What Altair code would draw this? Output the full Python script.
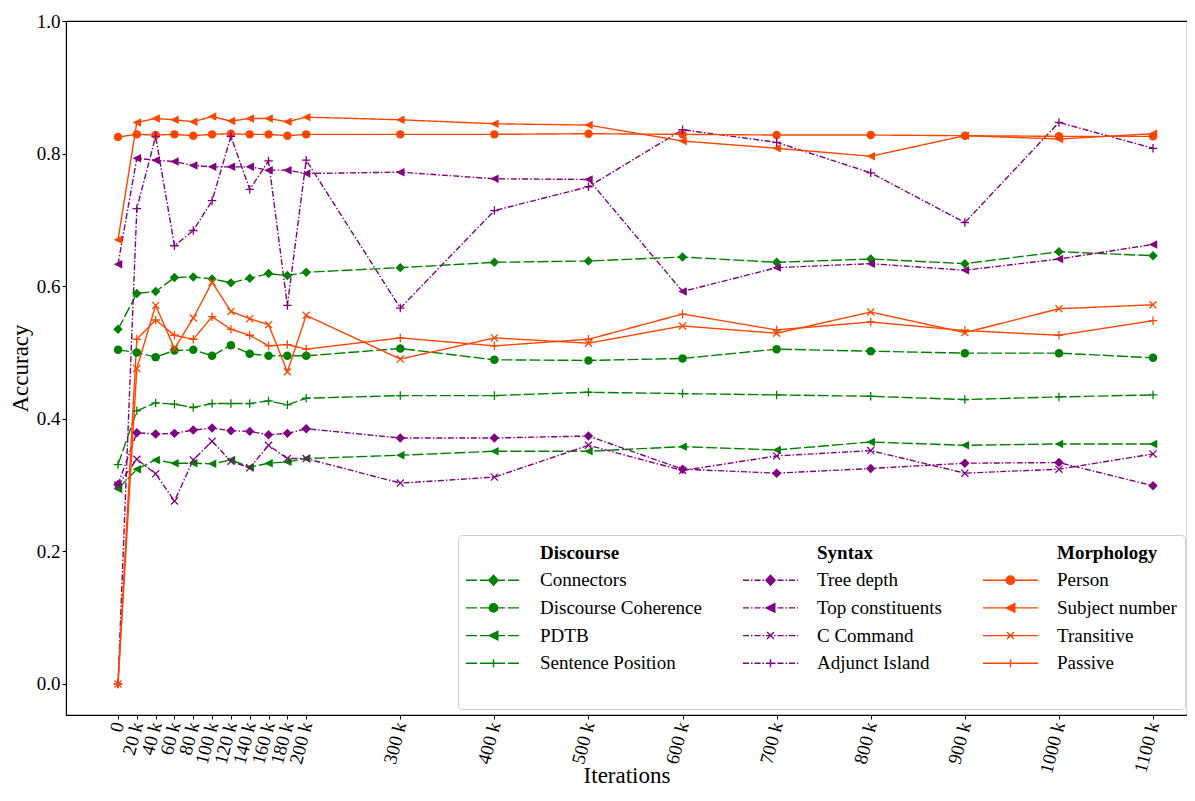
import altair as alt
import pandas as pd

# ---------------- data ----------------
iterations = [0, 20, 40, 60, 80, 100, 120, 140, 160, 180, 200,
              300, 400, 500, 600, 700, 800, 900, 1000, 1100]  # in thousands

connectors = [0.535, 0.589, 0.592, 0.613, 0.614, 0.611, 0.605, 0.612, 0.619, 0.616, 0.621,
              0.628, 0.636, 0.638, 0.644, 0.636, 0.641, 0.634, 0.652, 0.646]
discourse_coherence = [0.504, 0.500, 0.493, 0.503, 0.504, 0.495, 0.511, 0.498, 0.495, 0.495, 0.495,
                       0.506, 0.489, 0.488, 0.491, 0.505, 0.502, 0.499, 0.499, 0.492]
pdtb = [0.294, 0.324, 0.338, 0.333, 0.333, 0.332, 0.338, 0.327, 0.333, 0.335, 0.340,
        0.345, 0.351, 0.351, 0.358, 0.353, 0.365, 0.360, 0.362, 0.362]
sentence_position = [0.331, 0.412, 0.424, 0.422, 0.417, 0.423, 0.423, 0.423, 0.427, 0.421, 0.431,
                     0.435, 0.435, 0.440, 0.438, 0.436, 0.434, 0.429, 0.433, 0.436]
tree_depth = [0.301, 0.379, 0.377, 0.378, 0.383, 0.386, 0.382, 0.381, 0.376, 0.378, 0.385,
              0.371, 0.371, 0.374, 0.324, 0.318, 0.325, 0.333, 0.334, 0.299]
top_constituents = [0.633, 0.793, 0.790, 0.788, 0.782, 0.780, 0.780, 0.780, 0.775, 0.775, 0.770,
                    0.772, 0.762, 0.761, 0.592, 0.628, 0.634, 0.624, 0.641, 0.663]
c_command = [0.300, 0.339, 0.317, 0.276, 0.338, 0.366, 0.336, 0.326, 0.360, 0.340, 0.340,
             0.303, 0.312, 0.360, 0.322, 0.344, 0.352, 0.318, 0.324, 0.347]
adjunct_island = [0.0, 0.717, 0.826, 0.661, 0.684, 0.729, 0.826, 0.746, 0.789, 0.571, 0.790,
                  0.567, 0.714, 0.750, 0.836, 0.817, 0.771, 0.696, 0.847, 0.808]
person = [0.825, 0.829, 0.828, 0.829, 0.827, 0.829, 0.830, 0.829, 0.829, 0.827, 0.829,
          0.829, 0.829, 0.830, 0.829, 0.828, 0.828, 0.827, 0.826, 0.826]
subject_number = [0.670, 0.847, 0.853, 0.851, 0.848, 0.856, 0.849, 0.853, 0.853, 0.848, 0.855,
                  0.851, 0.845, 0.843, 0.819, 0.808, 0.796, 0.827, 0.822, 0.830]
transitive = [0.0, 0.476, 0.571, 0.506, 0.552, 0.606, 0.562, 0.551, 0.542, 0.471, 0.556,
              0.490, 0.522, 0.514, 0.540, 0.529, 0.561, 0.530, 0.566, 0.572]
passive = [0.0, 0.520, 0.549, 0.526, 0.520, 0.554, 0.535, 0.526, 0.510, 0.512, 0.505,
           0.522, 0.510, 0.520, 0.558, 0.534, 0.546, 0.533, 0.526, 0.548]

groups = ["Discourse", "Syntax", "Morphology"]
discourse_names = ["Connectors", "Discourse Coherence", "PDTB", "Sentence Position"]
syntax_names = ["Tree depth", "Top constituents", "C Command", "Adjunct Island"]
morph_names = ["Person", "Subject number", "Transitive", "Passive"]
series_names = discourse_names + syntax_names + morph_names
series_values = [connectors, discourse_coherence, pdtb, sentence_position,
                 tree_depth, top_constituents, c_command, adjunct_island,
                 person, subject_number, transitive, passive]

y_ticks = [0.0, 0.2, 0.4, 0.6, 0.8, 1.0]

# ---------------- styles ----------------
GREEN, PURPLE, ORANGE = "#008000", "#800080", "#ff4500"
group_color = {"Discourse": GREEN, "Syntax": PURPLE, "Morphology": ORANGE}
group_dash = {"Discourse": [11, 3], "Syntax": [6, 2, 1.5, 2], "Morphology": [1, 0]}
series_group = {}
for g, names in zip(groups, [discourse_names, syntax_names, morph_names]):
    for n in names:
        series_group[n] = g
series_marker = {
    "Connectors": "diamond", "Discourse Coherence": "circle", "PDTB": "tri",
    "Sentence Position": "plus", "Tree depth": "diamond", "Top constituents": "tri",
    "C Command": "x", "Adjunct Island": "plus", "Person": "circle",
    "Subject number": "tri", "Transitive": "x", "Passive": "plus",
}

# legend entries, column by column: header, four series, one blank row
blanks = [" ", "  ", "   "]
legend_order = []
for g, names, b in zip(groups, [discourse_names, syntax_names, morph_names], blanks):
    legend_order += [g] + names + [b]

legend_colors = [group_color[series_group[n]] if n in series_group else "#000000" for n in legend_order]
series_colors = [group_color[series_group[n]] for n in series_names]

# legend glyphs: line + marker (path units == pixels with symbolSize 4)
L0, L1, CX = -9.5, 45.5, 18.0


def line_path(pattern):
    if pattern == [1, 0]:
        return f"M{L0},0L{L1},0"
    segs, x, i = [], L0, 0
    while x < L1 - 1e-6:
        x2 = min(x + pattern[i % len(pattern)], L1)
        if i % 2 == 0:
            segs.append(f"M{x:.2f},0L{x2:.2f},0")
        x, i = x2, i + 1
    return "".join(segs)


marker_glyph = {
    "diamond": f"M{CX-4.6},0L{CX},-5L{CX+4.6},0L{CX},5Z",
    "circle": f"M{CX-4.2},0A4.2,4.2,0,1,0,{CX+4.2},0A4.2,4.2,0,1,0,{CX-4.2},0Z",
    "tri": f"M{CX-4.3},0L{CX+4.3},-4.3L{CX+4.3},4.3Z",
    "plus": f"M{CX-4},0L{CX+4},0M{CX},-4L{CX},4",
    "x": f"M{CX-3.5},-3.5L{CX+3.5},3.5M{CX-3.5},3.5L{CX+3.5},-3.5",
}
legend_paths = []
for n in legend_order:
    if n in series_group:
        legend_paths.append(line_path(group_dash[series_group[n]]) + marker_glyph[series_marker[n]])
    else:
        legend_paths.append("M0,0")

# ---------------- table ----------------
rows = []
for name, vals in zip(series_names, series_values):
    for it, v in zip(iterations, vals):
        rows.append({"iter": it, "acc": v, "series": name, "marker": series_marker[name]})
df = pd.DataFrame(rows)

color_scale = alt.Scale(domain=series_names, range=series_colors)

x_enc = alt.X("iter:Q", title="Iterations",
              scale=alt.Scale(domain=[-55.27, 1136.1], nice=False, zero=False),
              axis=alt.Axis(values=iterations, labelAngle=-75, labelOverlap=False,
                            labelExpr="datum.value == 0 ? '0' : datum.value + ' k'",
                            labelPadding=3, titleY=67, titleBaseline="alphabetic",
                            labelBound=False))
y_enc = alt.Y("acc:Q", title="Accuracy",
              scale=alt.Scale(domain=[-0.0468, 1.0], nice=False, zero=False),
              axis=alt.Axis(values=y_ticks, format=".1f", labelPadding=2, titlePadding=4))

lines = alt.Chart(df).mark_line(strokeWidth=1.4).encode(
    x=x_enc, y=y_enc,
    color=alt.Color("series:N", scale=color_scale, legend=None),
    strokeDash=alt.StrokeDash("series:N", legend=None,
                              scale=alt.Scale(domain=series_names,
                                              range=[group_dash[series_group[n]] for n in series_names])),
    detail="series:N",
)

point_styles = [
    ("diamond", dict(shape="diamond", size=90, filled=True)),
    ("circle", dict(shape="circle", size=72, filled=True)),
    ("tri", dict(shape="M-1,0L1,-1L1,1Z", size=72, filled=True)),
    ("plus", dict(shape="M-1,0L1,0M0,-1L0,1", size=72, filled=False, strokeWidth=1.3)),
    ("x", dict(shape="M-1,-1L1,1M-1,1L1,-1", size=50, filled=False, strokeWidth=1.3)),
]
point_layers = []
for key, kw in point_styles:
    point_layers.append(
        alt.Chart(df).transform_filter(alt.datum.marker == key)
        .mark_point(opacity=1, **kw)
        .encode(x=x_enc, y=y_enc, color=alt.Color("series:N", scale=color_scale, legend=None))
    )

legend_def = alt.Legend(
    title=None, orient="none", legendX=392, legendY=514, columns=3,
    symbolSize=4, symbolStrokeWidth=1.4, symbolOpacity=1,
    symbolFillColor={"expr": "scale('fill', datum.value)"},
    symbolStrokeColor={"expr": "scale('fill', datum.value)"},
    labelFont="Liberation Serif", labelFontSize=19, labelColor="black", labelLimit=400,
    labelFontWeight={"expr": "indexof(['Discourse','Syntax','Morphology'], datum.value) >= 0 ? 'bold' : 'normal'"},
    labelOffset=55, rowPadding=7.7, columnPadding=38, padding=8,
    fillColor="rgba(255,255,255,0.8)", strokeColor="#cccccc", cornerRadius=4,
)

legend_layer = alt.Chart(pd.DataFrame({"series": legend_order})).transform_filter("false").mark_point(
    filled=True, opacity=1, size=4, strokeWidth=1.4
).encode(
    fill=alt.Fill("series:N", scale=alt.Scale(domain=legend_order, range=legend_colors), legend=legend_def),
    shape=alt.Shape("series:N", scale=alt.Scale(domain=legend_order, range=legend_paths), legend=legend_def),
)

chart = alt.layer(lines, *point_layers, legend_layer).properties(
    width=1121, height=694,
    padding={"left": 58, "top": 13, "right": 0, "bottom": 73},
    autosize=alt.AutoSizeParams(type="none"),
).configure_view(
    stroke="black", strokeWidth=1.1
).configure_axis(
    grid=False, domainColor="black", domainWidth=1.1, tickColor="black", tickWidth=1.1,
    tickSize=4, labelFont="Liberation Serif", labelFontSize=19, labelColor="black",
    titleFont="Liberation Serif", titleFontSize=23, titleFontWeight="normal", titleColor="black",
)

chart.save("out.html", embed_options={"renderer": "svg", "actions": False})
